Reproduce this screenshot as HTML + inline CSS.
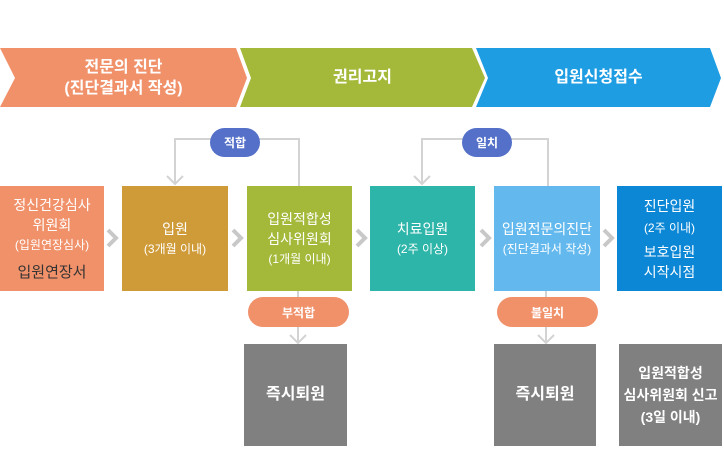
<!DOCTYPE html>
<html><head><meta charset="utf-8"><style>
body{margin:0;width:724px;height:461px;background:#fff;position:relative;overflow:hidden;font-family:"Liberation Sans","Noto Sans CJK KR",sans-serif}
.b{position:absolute;color:#fff;text-align:center;display:flex;flex-direction:column;justify-content:center;align-items:center;font-size:14px;line-height:20px}
.s{font-size:12px}
.p{position:absolute;color:#fff;font-weight:bold;font-size:12px;display:flex;align-items:center;justify-content:center;border-radius:15px}
</style></head><body>
<svg width="724" height="461" style="position:absolute;left:0;top:0">
<polygon points="0,48 236,48 247,78 236,107 0,107 15,78" fill="#f0916a"/>
<polygon points="240,48 472,48 485,78 472,107 240,107 251,78" fill="#a4b93a"/>
<polygon points="476,48 710,48 721,78 710,107 476,107 488,78" fill="#1e9de3"/>
<g fill="none" stroke="#d3d3d3" stroke-width="2">
<polyline points="299,186 299,139 175,139 175,184"/>
<polyline points="167,176 175,184 183,176"/>
<polyline points="548,186 548,139 422,139 422,184"/>
<polyline points="414,176 422,184 430,176"/>
<line x1="298" y1="291" x2="298" y2="343"/>
<polyline points="290,335 298,343 306,335"/>
<line x1="546" y1="291" x2="546" y2="343"/>
<polyline points="538,335 546,343 554,335"/>
</g>
<g fill="none" stroke="#c8c8c8" stroke-width="4">
<polyline points="108,230 116,238 108,246"/>
<polyline points="233,230 241,238 233,246"/>
<polyline points="357,230 365,238 357,246"/>
<polyline points="481,230 489,238 481,246"/>
<polyline points="604,230 612,238 604,246"/>
</g>
</svg>
<div class="b" style="left:0;top:48px;width:247px;height:59px;font-size:16px;font-weight:bold;line-height:21px">전문의 진단<br>(진단결과서 작성)</div>
<div class="b" style="left:240px;top:48px;width:245px;height:59px;font-size:16px;font-weight:bold">권리고지</div>
<div class="b" style="left:476px;top:48px;width:245px;height:59px;font-size:16px;font-weight:bold">입원신청접수</div>

<div class="p" style="left:210px;top:128px;width:50px;height:29px;background:#5470c9">적합</div>
<div class="p" style="left:462px;top:128px;width:50px;height:29px;background:#5470c9">일치</div>

<div class="b" style="left:0;top:186px;width:104px;height:105px;background:#f0916a">정신건강심사<br>위원회<span class="s">(입원연장심사)</span><span style="color:#333;margin-top:8px;font-size:15px">입원연장서</span></div>
<div class="b" style="left:122px;top:186px;width:106px;height:105px;background:#cf9a38">입원<span class="s">(3개월 이내)</span></div>
<div class="b" style="left:247px;top:186px;width:105px;height:105px;background:#a4b93a">입원적합성<br>심사위원회<span class="s">(1개월 이내)</span></div>
<div class="b" style="left:370px;top:186px;width:105px;height:105px;background:#2db5a9">치료입원<span class="s">(2주 이상)</span></div>
<div class="b" style="left:494px;top:186px;width:106px;height:105px;background:#63b9ee">입원전문의진단<span class="s">(진단결과서 작성)</span></div>
<div class="b" style="left:617px;top:186px;width:105px;height:105px;background:#0b87d6">진단입원<span class="s" style="margin:2px 0 4px">(2주 이내)</span>보호입원<br>시작시점</div>

<div class="p" style="left:248px;top:297px;width:101px;height:30px;background:#f0916a">부적합</div>
<div class="p" style="left:497px;top:297px;width:101px;height:30px;background:#f0916a">불일치</div>

<div class="b" style="left:244px;top:344px;width:103px;height:102px;background:#808080;font-size:16px;font-weight:bold">즉시퇴원</div>
<div class="b" style="left:494px;top:344px;width:102px;height:102px;background:#808080;font-size:16px;font-weight:bold">즉시퇴원</div>
<div class="b" style="left:619px;top:344px;width:103px;height:102px;background:#808080;font-weight:bold;line-height:22px">입원적합성<br>심사위원회 신고<br>(3일 이내)</div>
</body></html>
